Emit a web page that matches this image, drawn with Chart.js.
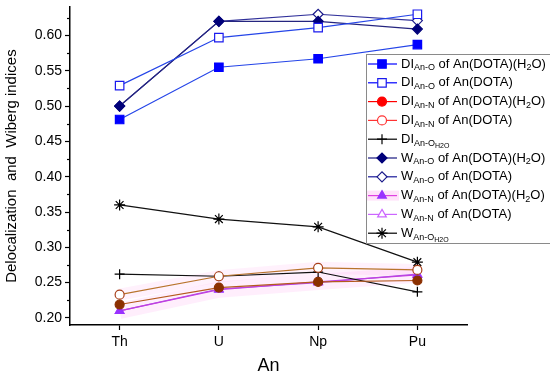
<!DOCTYPE html>
<html><head><meta charset="utf-8">
<script src="https://cdn.jsdelivr.net/npm/chart.js@4.4.0/dist/chart.umd.min.js"></script>
<style>html,body{margin:0;padding:0;background:#fff}#wrap{width:550px;height:377px}</style>
</head><body><div id="wrap"><canvas id="c" width="550" height="377"></canvas></div>
<script>
const categories = ['Th', 'U', 'Np', 'Pu'];
const diAnO_H2O  = [0.481, 0.555, 0.567, 0.587];
const diAnO_DOTA = [0.529, 0.597, 0.611, 0.630];
const diAnN_H2O  = [0.219, 0.243, 0.251, 0.253];
const diAnN_DOTA = [0.233, 0.259, 0.271, 0.268];
const diAnOw     = [0.262, 0.259, 0.265, 0.237];
const wAnO_H2O   = [0.500, 0.620, 0.620, 0.609];
const wAnO_DOTA  = [0.500, 0.620, 0.630, 0.621];
const wAnN_H2O   = [0.210, 0.240, 0.251, 0.261];
const wAnN_DOTA  = [0.210, 0.241, 0.250, 0.262];
const wAnOw      = [0.360, 0.340, 0.329, 0.279];
const majorTicks = [0.20, 0.25, 0.30, 0.35, 0.40, 0.45, 0.50, 0.55, 0.60];
const minorTicks = [0.225, 0.275, 0.325, 0.375, 0.425, 0.475, 0.525, 0.575, 0.625];

const FONT = '"Liberation Sans", Arial, sans-serif';

function ds(data, line, mk, fill, style, r) {
  return {data, borderColor: line, backgroundColor: fill, pointBorderColor: mk,
    pointBackgroundColor: fill, pointStyle: style, pointRadius: r, pointHoverRadius: r,
    borderWidth: 1.2, pointBorderWidth: 1.2, tension: 0, fill: false};
}
const datasets = [
  ds(diAnO_H2O, '#2545e8', '#0000ff', '#0000ff', 'rect', 6),
  ds(diAnO_DOTA, '#2545e8', '#1a1aee', '#ffffff', 'rect', 6),
  ds(diAnN_H2O, '#b45a1e', '#8b3000', '#8b3000', 'circle', 4.5),
  ds(diAnN_DOTA, '#b8742c', '#a8401a', '#ffffff', 'circle', 4.5),
  ds(diAnOw, '#111111', '#000000', '#000000', 'cross', 5),
  ds(wAnO_H2O, '#25257f', '#00007a', '#00007a', 'rectRot', 5),
  ds(wAnO_DOTA, '#30309a', '#1a1a8a', '#ffffff', 'rectRot', 5),
  ds(wAnN_H2O, '#c040e0', '#9933ff', '#9933ff', 'triangle', 5),
  ds(wAnN_DOTA, '#b050e8', '#cc66ff', '#ffffff', 'triangle', 5),
  ds(wAnOw, '#111111', '#000000', '#000000', 'star', 5.5),
  // faint pink glow under the lower series
  {data: wAnN_H2O, borderColor: 'rgba(255,120,230,0.13)', borderWidth: 16, pointRadius: 0, pointHoverRadius: 0, fill: false},
  {data: diAnN_DOTA, borderColor: 'rgba(255,120,230,0.10)', borderWidth: 12, pointRadius: 0, pointHoverRadius: 0, fill: false}
];

const legendItems = [
  {i: 0, color: '#0000ff', parts: [['DI',0],['An-O',1],[' of An(DOTA)(H',0],['2',1],['O)',0]]},
  {i: 1, color: '#0000ff', parts: [['DI',0],['An-O',1],[' of An(DOTA)',0]]},
  {i: 2, color: '#ff0000', mk: '#ff0000', fill: '#ff0000', parts: [['DI',0],['An-N',1],[' of An(DOTA)(H',0],['2',1],['O)',0]]},
  {i: 3, color: '#ff3333', mk: '#ff3333', fill: '#ffffff', parts: [['DI',0],['An-N',1],[' of An(DOTA)',0]]},
  {i: 4, color: '#000000', parts: [['DI',0],['An-O',1],['H2O',2]]},
  {i: 5, color: '#1a1a80', parts: [['W',0],['An-O',1],[' of An(DOTA)(H',0],['2',1],['O)',0]]},
  {i: 6, color: '#1a1a9a', parts: [['W',0],['An-O',1],[' of An(DOTA)',0]]},
  {i: 7, color: '#e040e0', parts: [['W',0],['An-N',1],[' of An(DOTA)(H',0],['2',1],['O)',0]]},
  {i: 8, color: '#cc66ff', parts: [['W',0],['An-N',1],[' of An(DOTA)',0]]},
  {i: 9, color: '#000000', parts: [['W',0],['An-O',1],['H2O',2]]}
];

const legendPlugin = {
  id: 'customLegend',
  afterDatasetsDraw(chart) {
    const ctx = chart.ctx;
    ctx.save();
    const y = chart.scales.y;
    ctx.strokeStyle = '#000'; ctx.lineWidth = 1.2;
    minorTicks.forEach(v => {
      const py = Math.round(y.getPixelForValue(v)) + 0.5;
      ctx.beginPath(); ctx.moveTo(y.right - 3, py); ctx.lineTo(y.right, py); ctx.stroke();
    });
    const bx = 366.5, by = 54.5, bw = 185, bh = 189;
    ctx.fillStyle = '#fff'; ctx.fillRect(bx, by, bw, bh);
    ctx.strokeStyle = '#8a8a8a'; ctx.lineWidth = 1; ctx.strokeRect(bx, by, bw, bh);
    legendItems.forEach((it, k) => {
      const d = chart.data.datasets[it.i];
      const cy = 64 + k * 18.8;
      if (it.i === 7) { ctx.fillStyle = 'rgba(255,140,235,0.25)'; ctx.fillRect(367, cy - 5, 32, 10); }
      ctx.strokeStyle = it.color; ctx.lineWidth = 1.2;
      ctx.beginPath(); ctx.moveTo(368, cy); ctx.lineTo(397, cy); ctx.stroke();
      ctx.fillStyle = it.fill || d.pointBackgroundColor;
      ctx.strokeStyle = it.mk || d.pointBorderColor;
      ctx.lineWidth = 1.2;
      Chart.helpers.drawPoint(ctx, {pointStyle: d.pointStyle, rotation: 0, radius: d.pointRadius, borderWidth: 1.2}, 382, cy);
      let x = 401;
      ctx.fillStyle = '#000'; ctx.textBaseline = 'middle'; ctx.textAlign = 'left';
      it.parts.forEach(([t, s]) => {
        if (s === 0) { ctx.font = '13px ' + FONT; ctx.fillText(t, x, cy); }
        else if (s === 1) { ctx.font = '9px ' + FONT; ctx.fillText(t, x, cy + 4); }
        else { ctx.font = '7px ' + FONT; ctx.fillText(t, x, cy + 7); }
        x += ctx.measureText(t).width;
      });
    });
    ctx.restore();
  }
};

new Chart(document.getElementById('c'), {
  type: 'line',
  data: {labels: categories, datasets},
  options: {
    responsive: false, animation: false, devicePixelRatio: 1,
    layout: {padding: {top: 6.7, right: 83, left: 0, bottom: 0}},
    plugins: {legend: {display: false}, tooltip: {enabled: false}},
    scales: {
      x: {
        offset: true,
        grid: {display: true, drawOnChartArea: false, tickLength: 5, tickColor: '#000', tickWidth: 1.2, offset: false},
        border: {display: true, color: '#000', width: 1.5},
        ticks: {color: '#000', font: {family: FONT, size: 14}, padding: 4},
        title: {display: true, text: 'An', color: '#000', font: {family: FONT, size: 18}, padding: {top: 0, bottom: 0}},
        afterFit(s) { s.height = 52; s.paddingLeft = 0; s.paddingRight = 0; }
      },
      y: {
        min: 0.19, max: 0.64,
        afterBuildTicks(s) { s.ticks = majorTicks.map(v => ({value: v})); },
        grid: {display: true, drawOnChartArea: false, tickLength: 5, tickColor: '#000', tickWidth: 1.2},
        border: {display: true, color: '#000', width: 1.5},
        ticks: {color: '#000', font: {family: FONT, size: 14}, padding: 3, callback: v => v.toFixed(2)},
        title: {display: true, text: 'Delocalization  and  Wiberg indices', color: '#000', font: {family: FONT, size: 15}, padding: {top: 3, bottom: 2}},
        afterFit(s) { s.width = 70; s.paddingTop = 0; s.paddingBottom = 0; }
      }
    }
  },
  plugins: [legendPlugin]
});
</script></body></html>
